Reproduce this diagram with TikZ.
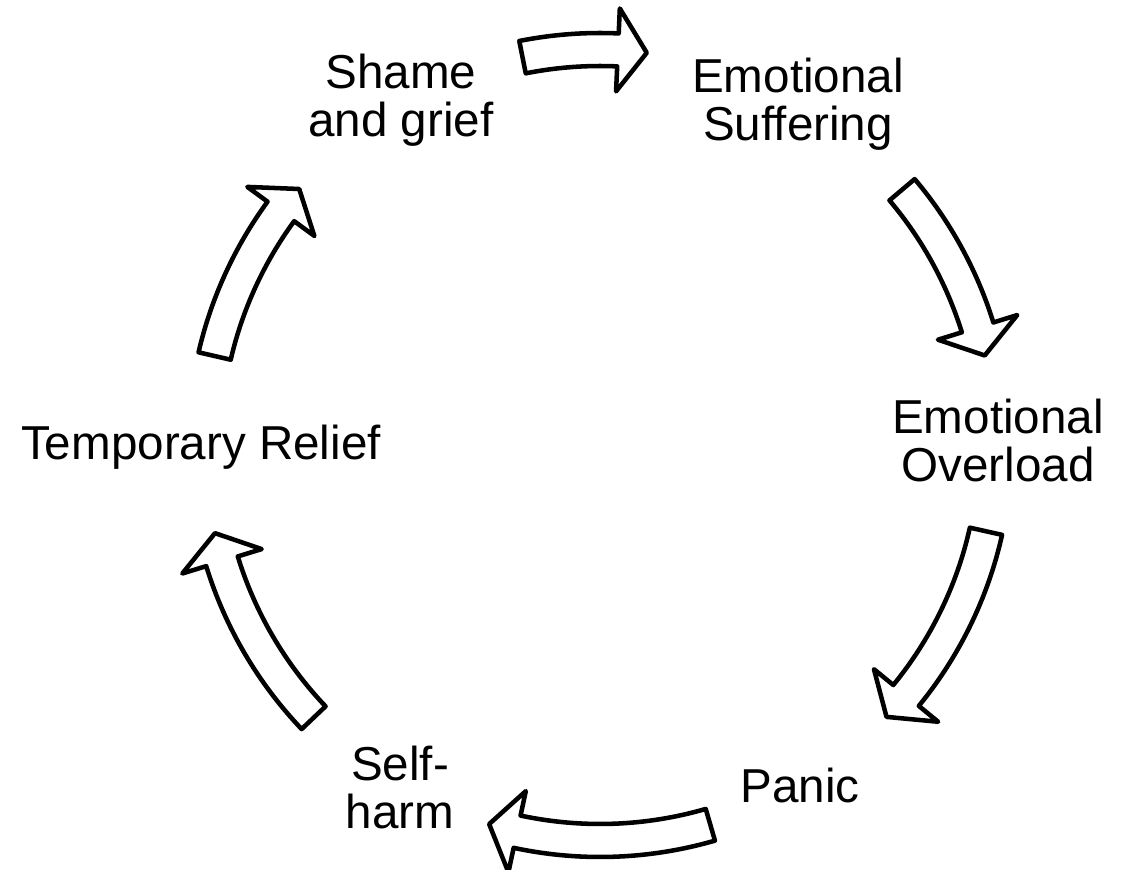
\documentclass[tikz,border=0pt]{standalone}
\usepackage{fontspec}
\setmainfont{Liberation Sans}
\usepackage{tikz}
\usetikzlibrary{positioning}

\begin{document}
\begin{tikzpicture}[x=0.75pt,y=0.75pt,
                    cyclelabel/.style={inner sep=0pt,align=center,anchor=base,
                                       font=\fontsize{35.7}{36.5}\selectfont},
                    cycleblock/.style={draw=black,fill=white,line width=3.4pt,line join=round}]
                    \useasboundingbox (0,0) rectangle (1127,870);
                    \coordinate (hub) at (600,425);
                    % labels round the cycle (base = last line)
                    \node [cyclelabel] (shame) at (401,733) {Shame\\and grief};
                    \node [cyclelabel] (suffering) at (798,729) {Emotional\\Suffering};
                    \node [cyclelabel] (overload) at (998,388) {Emotional\\Overload};
                    \node [cyclelabel] (panic) at (800,67) {Panic};
                    \node [cyclelabel] (selfharm) at (400,41) {Self-\\harm};
                    \node [cyclelabel] (relief) at (201,410) {Temporary Relief};
                    % curved block arrows, clockwise
                    \begin{scope}[shift={(hub)}]
                    \foreach \from/\to in {101.3/83.2, 40.2/13.1, -12.6/-43.5,
                                           -73.8/-106.3, -136.4/-167.1, 167/139.6}{
                        \pgfmathsetmacro{\notch}{\to+4.2}
                        \draw [cycleblock] (\from:412) arc[start angle=\from, end angle=\notch, radius=412]
                            -- (\notch:437) -- (\to:395) -- (\notch:354) -- (\notch:379)
                            arc[start angle=\notch, end angle=\from, radius=379] -- cycle;
                    }
                    \end{scope}
\end{tikzpicture}
\end{document}
